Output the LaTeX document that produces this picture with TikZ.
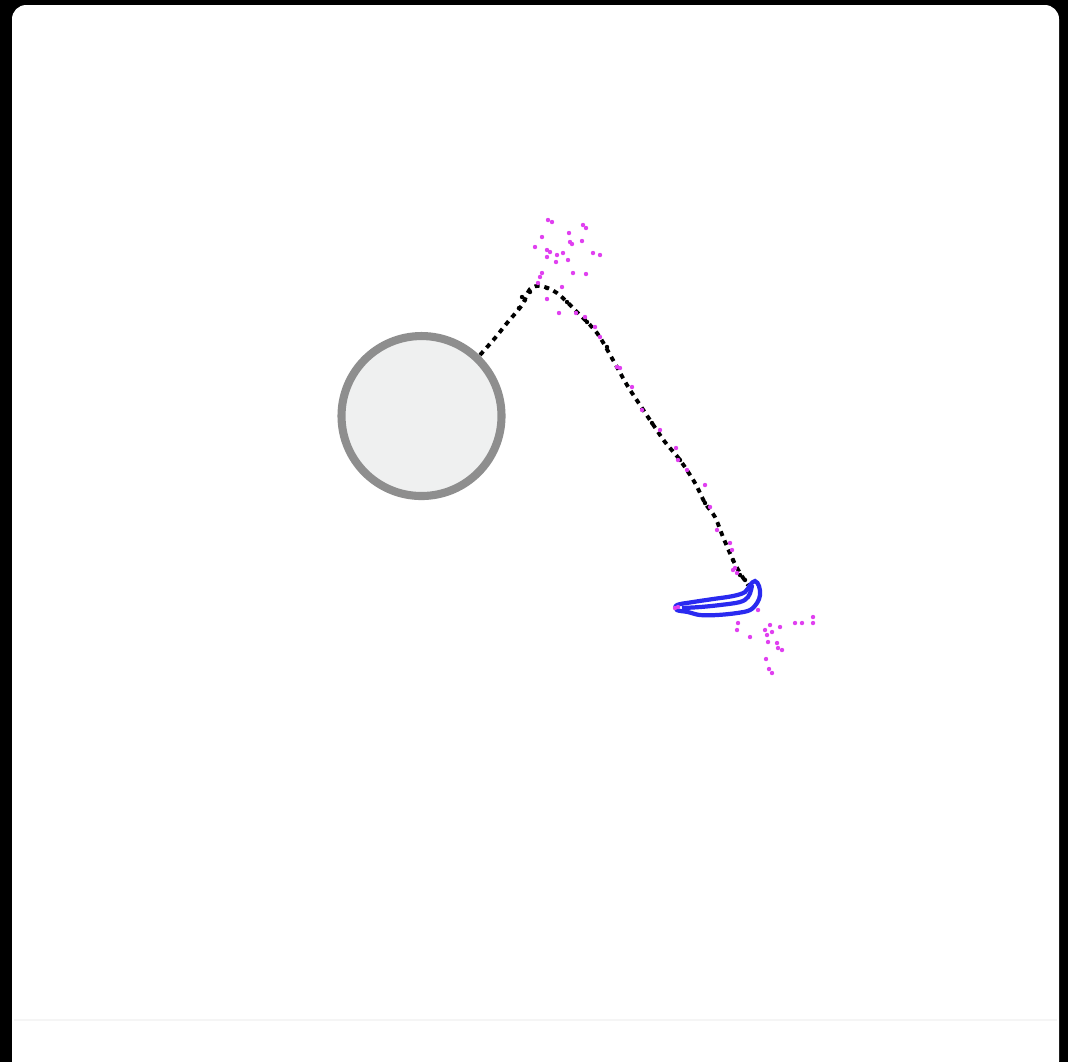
\documentclass[tikz,border=0pt]{standalone}
\usepackage{xcolor}
\usepackage{tikz}
\definecolor{rimgray}{HTML}{8E8E8E}
\definecolor{ballfill}{HTML}{EFF0F0}
\definecolor{dotpink}{HTML}{E040F0}
\definecolor{blobblue}{HTML}{2A2AF0}

\begin{document}
\begin{tikzpicture}[
    x=0.01cm, y=-0.01cm,
    ball/.style={draw=rimgray, line width=2.3pt, fill=ballfill},
    track/.style={black, line width=1.1pt, dash pattern=on 1.4pt off 1.4pt},
    blob/.style={draw=blobblue, line width=1.2pt},
    pinkdot/.style={fill=dotpink},
    blackdot/.style={fill=black}
  ]
    % frame
    \useasboundingbox (0,0) rectangle (1068,1062);
    \clip (0,0) rectangle (1068,1062);
    \fill[black] (0,0) rectangle (1068,1062);
    \fill[white, rounded corners=4pt] (12,5) rectangle (1059,1075);
    \draw[black!4, line width=0.6pt] (14,1020) -- (1057,1020);

    % obstacle
    \draw[ball] (421.5,416) circle (80);

    % black trajectory
    \draw[track] plot[smooth, tension=0.5] coordinates {
      (480,355) (495,338) (507,323) (522,305) (530,289) (541,286) (557,293)
      (577,312) (597,333) (613,360) (627,385) (640,405) (652,423) (665,442)
      (680,460) (695,483) (705,503) (715,517) (723,537) (733,560) (740,573)
      (748,585)};
    \foreach \x/\y in {522/297, 525/300, 519/308, 530/292, 547/288, 567/302,
                       587/322, 607/347, 652/423, 680/460, 705/503, 733/560,
                       740/575, 745/580}
      \fill[blackdot] (\x,\y) circle (2.2);

    % blue contour
    \draw[blob] plot[smooth cycle, tension=0.6] coordinates {
      (677,605) (693,602) (713,599) (733,596) (745,592) (750,585) (755,581)
      (759,586) (760,595) (757,603) (750,610) (737,613) (717,615) (700,615)
      (688,612) (677,610)};
    \draw[blob] plot[smooth, tension=0.6] coordinates {
      (682,608) (700,607) (720,605) (740,602) (748,597) (751,590) (752,585)};

    % pink samples
    \foreach \x/\y in {548/220, 552/222, 583/225, 586/228, 569/233, 542/237,
                       535/247, 547/250, 550/252, 570/242, 572/244, 582/241,
                       557/255, 563/253, 547/257, 593/253, 600/255, 568/260,
                       556/262, 573/273, 586/274, 542/273, 540/277, 538/283,
                       562/287, 547/299, 559/313, 576/313, 585/317, 595/327,
                       600/337, 617/367, 620/368, 632/387, 642/410, 660/430,
                       676/448, 678/460, 687/470, 705/485, 710/507, 717/530,
                       730/543, 732/550, 733/570, 735/568, 737/573, 675/608,
                       678/607, 758/610, 738/623, 737/630, 750/637, 765/630,
                       770/625, 767/635, 772/632, 780/627, 768/642, 777/643,
                       778/648, 782/650, 795/623, 802/623, 813/617, 813/623,
                       766/659, 769/669, 772/673}
      \fill[pinkdot] (\x,\y) circle (2.2);
\end{tikzpicture}
\end{document}
